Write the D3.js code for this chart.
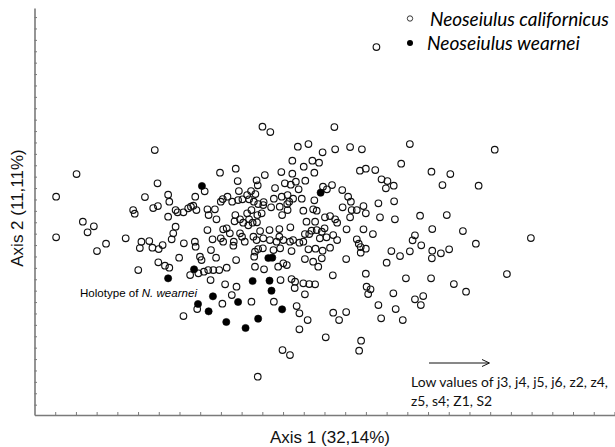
<!DOCTYPE html>
<html><head><meta charset="utf-8">
<script src="https://cdn.jsdelivr.net/npm/d3@7"></script>
<style>html,body{margin:0;padding:0;background:#fff}svg{display:block}</style>
</head><body>
<svg id="chart" width="615" height="447"></svg>
<script>
// ---- data (plot units) ----
const caliAxis1 = [870,580,600,763,306,670,697,733,765,803,833,955,1171,656,707,724,933,107,472,512,628,656,685,712,586,828,843,867,1010,1058,
313,517,565,637,652,665,689,568,757,734,883,898,914,894,1038,1130,612,672,744,783,798,805,915,875,837,820,807,784,712,680,
658,644,648,643,609,624,602,583,562,551,546,529,518,503,491,479,55,281,340,409,520,433,343,251,255,302,314,340,359,364,
379,391,398,404,412,440,459,443,463,474,541,511,523,531,541,546,555,552,558,569,582,629,630,684,709,718,739,752,765,770,
803,843,794,837,692,714,705,718,731,879,917,981,1049,578,567,123,151,135,359,353,349,440,480,489,509,566,574,598,623,651,
497,523,528,1012,1090,968,962,984,1123,1263,55,182,159,232,272,292,268,300,316,326,380,408,410,453,474,480,507,506,535,557,
565,582,599,616,623,633,650,658,674,684,688,699,726,743,760,770,820,825,830,843,738,449,561,569,581,608,625,654,697,715,
733,752,908,955,1012,1034,1055,930,1011,896,368,421,425,462,513,559,561,584,620,633,642,688,709,722,731,793,315,332,343,264,
396,417,431,442,455,470,489,448,485,514,684,654,663,662,699,714,688,626,759,843,845,855,849,913,945,1009,968,989,983,1067,
1098,1202,502,478,552,609,414,379,667,674,695,674,760,793,775,741,875,882,919,937,831,826,631,650,568,830,861,544,644];
const caliAxis2 = [1104,865,849,864,795,805,813,788,797,804,797,813,796,763,763,757,754,723,727,739,729,724,745,727,720,733,739,735,730,723,
695,702,704,695,691,700,703,689,690,685,707,702,688,680,690,688,681,677,677,675,655,640,641,635,627,615,615,623,644,649,
649,660,640,633,649,625,623,639,663,672,647,647,645,640,655,648,655,654,661,655,672,671,640,615,604,621,627,595,615,608,
608,620,625,628,615,617,617,600,587,640,660,600,587,577,605,587,577,615,640,633,630,655,600,613,617,613,593,597,587,577,
593,605,557,557,580,580,553,555,550,593,587,598,600,605,600,580,566,548,565,545,527,555,557,560,581,578,552,555,558,563,
545,545,535,558,552,539,524,509,514,531,533,514,492,530,520,522,501,502,498,510,515,520,505,527,530,520,520,508,520,535,
525,530,525,520,535,525,520,525,517,520,543,543,530,533,540,525,527,514,504,499,560,495,490,498,500,495,500,492,497,499,
493,502,492,491,493,485,497,477,470,457,472,475,465,472,465,475,445,437,445,455,450,468,460,445,470,468,458,448,442,435,
420,425,430,435,435,435,442,405,392,385,395,408,400,381,393,392,362,405,419,424,385,377,363,365,410,410,347,357,330,393,
370,423,360,334,340,340,318,297,327,305,285,257,307,309,285,233,330,290,318,285,223,193,195,180,115,487,543,569,615];
const wearAxis1 = [426,728,595,605,406,340,555,598,603,454,416,518,443,630,488,569,537];
const wearAxis2 = [687,667,471,472,437,410,402,403,373,356,333,339,311,317,279,289,261];

const seriesNames = ["Neoseiulus californicus", "Neoseiulus wearnei"];
const xTitle = "Axis 1 (32,14%)";
const yTitle = "Axis 2 (11,11%)";
const noteLines = ["Low values of j3, j4, j5, j6, z2, z4,", "z5, s4; Z1, S2"];
const holotypeParts = ["Holotype  of ", "N. wearnei"];
const xDomain = [0, 1477], yDomain = [0, 1221];
const xTickStep = 52.7, yTickStep = 34.2, yTickStart = 31;

// ---- drawing ----
const svg = d3.select("#chart");
const x = d3.scaleLinear().domain(xDomain).range([34.5, 615]);
const y = d3.scaleLinear().domain(yDomain).range([415, 8]);

// scale a text's font size so that it spans the given width
function fitWidth(sel, target) {
  const base = parseFloat(sel.attr("font-size"));
  const w = sel.node().getComputedTextLength();
  if (w > 0) sel.attr("font-size", (base * target / w).toFixed(2));
  return sel;
}

const axisColor = "#7a7a7a";
const gx = svg.append("g").attr("transform", "translate(0,415)")
  .call(d3.axisBottom(x).tickValues(d3.range(xTickStep, xDomain[1], xTickStep))
    .tickSize(-3).tickSizeOuter(0).tickFormat(""));
const gy = svg.append("g").attr("transform", "translate(34.5,0)")
  .call(d3.axisLeft(y).tickValues(d3.range(yTickStart, yDomain[1], yTickStep))
    .tickSize(-2.5).tickSizeOuter(0).tickFormat(""));
[gx, gy].forEach(g => {
  g.select(".domain").attr("stroke", axisColor).attr("stroke-width", 1.6);
  g.selectAll(".tick line").attr("stroke", axisColor).attr("stroke-width", 1);
});

const cali = caliAxis1.map((v, i) => ({a1: v, a2: caliAxis2[i]}));
const wear = wearAxis1.map((v, i) => ({a1: v, a2: wearAxis2[i]}));

svg.append("g").selectAll("circle").data(cali).join("circle")
  .attr("cx", d => x(d.a1)).attr("cy", d => y(d.a2)).attr("r", 3.3)
  .attr("fill", "none").attr("stroke", "#111").attr("stroke-width", 1.15);
svg.append("g").selectAll("circle").data(wear).join("circle")
  .attr("cx", d => x(d.a1)).attr("cy", d => y(d.a2)).attr("r", 3.6)
  .attr("fill", "#000").attr("stroke", "#000").attr("stroke-width", 0.6);

// legend
const lg = svg.append("g");
lg.append("circle").attr("cx", 410).attr("cy", 18.5).attr("r", 2.7)
  .attr("fill", "none").attr("stroke", "#222").attr("stroke-width", 0.9);
lg.append("circle").attr("cx", 410).attr("cy", 43).attr("r", 3)
  .attr("fill", "#000");
fitWidth(lg.append("text").attr("x", 430).attr("y", 25.5).text(seriesNames[0])
  .attr("font-family", "Lato, 'Open Sans', sans-serif").attr("font-style", "italic")
  .attr("font-size", 19), 179);
fitWidth(lg.append("text").attr("x", 427).attr("y", 50).text(seriesNames[1])
  .attr("font-family", "Lato, 'Open Sans', sans-serif").attr("font-style", "italic")
  .attr("font-size", 19), 153);

// axis titles
svg.append("text").attr("x", 330).attr("y", 443).attr("text-anchor", "middle")
  .attr("font-family", "'Liberation Sans', Arial, sans-serif").attr("font-size", 17)
  .attr("fill", "#111").text(xTitle);
svg.append("text").attr("transform", "translate(23,208) rotate(-90)").attr("text-anchor", "middle")
  .attr("font-family", "'Liberation Sans', Arial, sans-serif").attr("font-size", 17)
  .attr("fill", "#111").text(yTitle);

// holotype annotation
const ht = svg.append("text").attr("x", 80).attr("y", 297)
  .attr("font-family", "'Liberation Sans', Arial, sans-serif").attr("font-size", 11);
ht.append("tspan").text(holotypeParts[0]);
ht.append("tspan").attr("font-style", "italic").text(holotypeParts[1]);
fitWidth(ht, 117);

// arrow + note
const arrowY = 363;
svg.append("line").attr("x1", 429).attr("x2", 489).attr("y1", arrowY).attr("y2", arrowY)
  .attr("stroke", "#111").attr("stroke-width", 1);
svg.append("path").attr("d", `M482,${arrowY-3.5} L489.5,${arrowY} L482,${arrowY+3.5}`)
  .attr("fill", "none").attr("stroke", "#111").attr("stroke-width", 1);
const n0 = svg.append("text").attr("x", 411).attr("y", 387).text(noteLines[0])
  .attr("font-family", "Lato, 'Open Sans', sans-serif").attr("font-size", 15).attr("fill", "#111");
fitWidth(n0, 197);
svg.append("text").attr("x", 411).attr("y", 406).text(noteLines[1])
  .attr("font-family", "Lato, 'Open Sans', sans-serif").attr("font-size", n0.attr("font-size"))
  .attr("fill", "#111");
</script>
</body></html>
